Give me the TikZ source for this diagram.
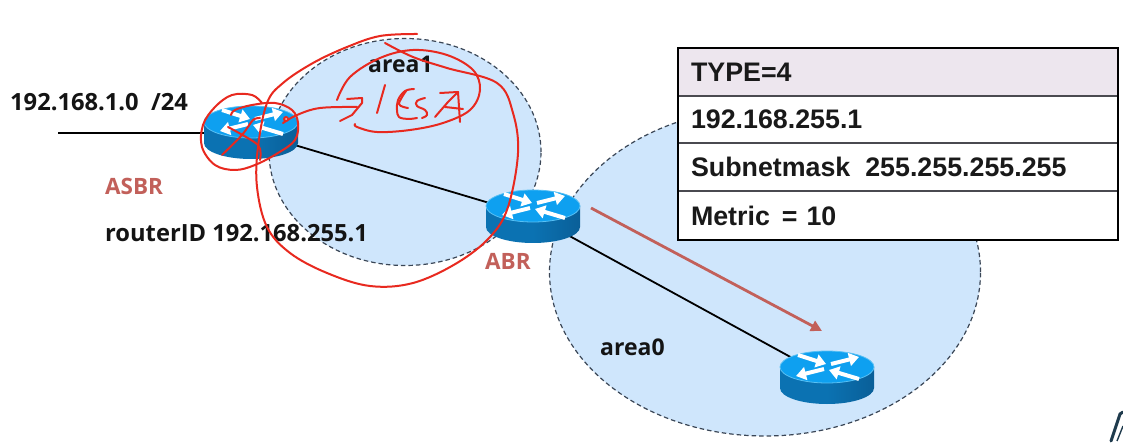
\documentclass[tikz,border=0pt]{standalone}
\usepackage{fontspec}
\usetikzlibrary{arrows.meta,shapes.geometric,shadings}
\newfontfamily\tblfont{Liberation Sans}
\newfontfamily\lblfont{Open Sans}
\definecolor{areafill}{HTML}{CFE6FC}
\definecolor{areaedge}{HTML}{3A4656}
\definecolor{rtop}{HTML}{0EA0F0}
\definecolor{rrim}{HTML}{58C0F4}
\definecolor{rbody}{HTML}{0B72B2}
\definecolor{rbodyd}{HTML}{0A5F98}
\definecolor{brick}{HTML}{C2605A}
\definecolor{pen}{HTML}{E8291F}
\definecolor{hdr}{HTML}{EDE6EE}
\definecolor{rowline}{HTML}{4A4A50}
\definecolor{logo}{HTML}{1F3B4D}
\tikzset{
  x=1pt,y=-1pt,
  areazone/.style={draw=areaedge,fill=areafill,line width=1.2pt,dash pattern=on 4.5pt off 3pt},
  link/.style={draw=black,line width=1.8pt},
  routerbox/.style={ellipse,minimum width=94pt,minimum height=53pt,inner sep=0pt},
  rarrow/.style={draw=white,line width=4pt,-{Triangle[length=10pt,width=13pt]}},
  routerpic/.pic={
    \path[left color=rbody,right color=rbodyd,middle color=rbody]
      (-47,-10) -- (-47,11) arc[x radius=47,y radius=16,start angle=180,end angle=0] -- (47,-10) -- cycle;
    \path[fill=rtop,draw=rrim,line width=.8pt] (0,-10) ellipse[x radius=47,y radius=16];
    \draw[rarrow] (-29,-22) -- (-1,-13);
    \draw[rarrow] (4,-13) -- (32,-20);
    \draw[rarrow] (-3,-8) -- (-31,-1);
    \draw[rarrow] (32,2) -- (2,-7);
  },
  lbl/.style={font=\lblfont\bfseries\fontsize{23.7}{28}\selectfont,text=black!92,inner sep=0pt},
  arealbl/.style={font=\lblfont\bfseries\fontsize{23}{28}\selectfont,text=black!92,inner sep=0pt},
  tag/.style={font=\lblfont\bfseries\fontsize{22.5}{26}\selectfont,text=brick,inner sep=0pt},
  row/.style={font=\tblfont\bfseries\fontsize{26.8}{30}\selectfont,text=black!90,anchor=west,
    minimum width=440pt,text width=414pt,align=left,inner xsep=13pt,inner ysep=0pt,outer sep=0pt},
  scribble/.style={draw=pen,line width=2pt,line cap=round,line join=round},
}
\begin{document}
\begin{tikzpicture}
\useasboundingbox[fill=white] (0,0) rectangle (1123,443);

% areas
\node[areazone,ellipse,minimum width=431pt,minimum height=328pt,inner sep=0pt] (area0zone) at (765,272) {};
\node[areazone,ellipse,minimum width=272pt,minimum height=227pt,inner sep=0pt] (area1zone) at (405,152) {};

% routers
\node[routerbox] (asbr) at (251,132) {};
\node[routerbox] (abr) at (533,216) {};
\node[routerbox] (core) at (827,377) {};
\coordinate (lan) at (58,133);
\draw[link,line width=2.8pt] (lan) -- (lan -| asbr.west);
\draw[link] (asbr) -- (abr);
\draw[link] (abr) -- (core);
\pic at (asbr.center) {routerpic};
\pic at (abr.center) {routerpic};
\pic at (core.center) {routerpic};

% flow arrow
\coordinate (flowa) at (591,208);
\coordinate (flowb) at (822,331);
\draw[draw=brick,line width=2.8pt,-{Triangle[length=11pt,width=11pt]}] (flowa) -- (flowb);

% labels
\node[lbl,anchor=west] (net) at (10,102) {192.168.1.0\ \ /24};
\node[tag,anchor=west] (asbrt) at (105,186) {ASBR};
\node[lbl,anchor=west] (rid) at (105,233) {routerID 192.168.255.1};
\node[tag,anchor=west] (abrt) at (485,261) {ABR};
\node[arealbl,anchor=west] (a1) at (368,64) {area1};
\node[arealbl,anchor=west] (a0) at (600,347) {area0};

% table
\node[row,fill=hdr,minimum height=48pt] (r1) at (678,72) {TYPE=4};
\node[row,fill=white,minimum height=47pt] (r2) at (678,119.5) {192.168.255.1};
\node[row,fill=white,minimum height=48pt] (r3) at (678,167) {Subnetmask\hspace{15pt}255.255.255.255};
\node[row,fill=white,minimum height=49pt] (r4) at (678,215.5) {Metric\hspace{12pt}= 10};
\draw[rowline,line width=1.4pt] (r1.south west) -- (r1.south east);
\draw[rowline,line width=1.1pt] (r2.south west) -- (r2.south east);
\draw[rowline,line width=1.1pt] (r3.south west) -- (r3.south east);
\draw[black,line width=2pt] (r1.north west) rectangle (r4.south east);

% hand-drawn red annotation
\draw[scribble] plot[smooth,tension=.6] coordinates {(417,34) (380,36) (347,47) (313,63) (283,83) (267,103) (258,147) (257,187) (267,227) (290,253) (327,273) (370,286) (413,283) (457,263) (490,237) (508,207) (518,153) (513,113) (497,83) (447,68) (413,57) (385,43)};
\draw[scribble] plot[smooth,tension=.6] coordinates {(337,100) (350,77) (380,58) (413,50) (447,55) (473,70) (480,90) (470,110) (443,123) (410,130) (377,132) (357,127) (355,124)};
\draw[scribble] plot[smooth,tension=.6] coordinates {(262,103) (252,95) (232,95) (215,107) (203,125) (202,147) (215,165) (235,170) (255,165) (278,153) (295,140) (298,123) (292,110) (275,103) (252,105) (235,110) (231,115)};
\draw[scribble] plot[smooth,tension=.5] coordinates {(222,155) (242,135) (253,120) (260,118)};
\draw[scribble] plot[smooth,tension=.5] coordinates {(228,127) (258,145) (260,160)};
\draw[scribble] plot[smooth,tension=.6] coordinates {(283,123) (297,115) (320,108) (357,107)};
\fill[pen] (286,119) circle[radius=3];
\fill[white!70!pen] (286,119) circle[radius=1];
\draw[scribble] (347,99) -- (362,98) -- (362,103) -- (352,115) -- (340,121);
\draw[scribble] (385,85) -- (377,113);
\draw[scribble] plot[smooth,tension=.6] coordinates {(414,89) (405,91) (398,100) (397,110) (399,117) (408,119) (417,118)};
\draw[scribble] plot[smooth,tension=.6] coordinates {(406,91) (399,104) (408,108)};
\draw[scribble] plot[smooth,tension=.7] coordinates {(425,98) (417,101) (417,106) (425,110) (427,115) (422,118)};
\draw[scribble] (435,117) -- (448,102) -- (458,92) -- (460,122);
\draw[scribble] (445,107) -- (463,109);
\draw[scribble] (440,93) -- (458,92);

% corner mark
\draw[logo,line width=3pt,line cap=round] (1111,441) -- (1120,414) -- (1123,412);
\draw[logo,line width=1.4pt] (1117,441) -- (1123,426);
\end{tikzpicture}
\end{document}
